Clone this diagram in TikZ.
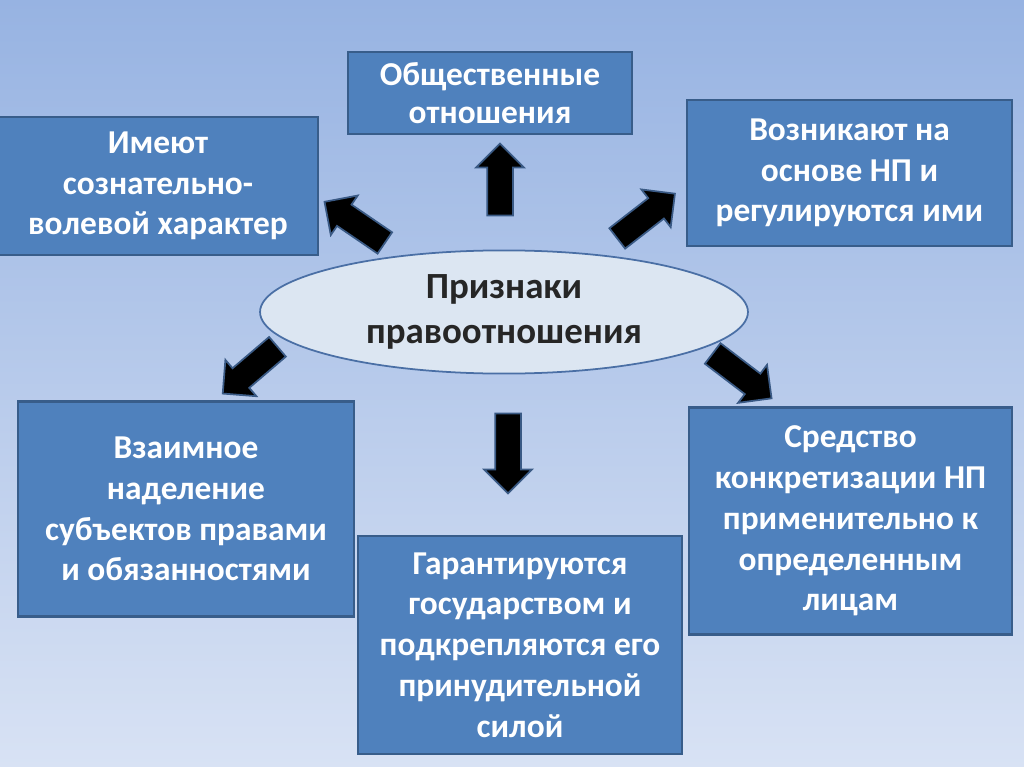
\documentclass[tikz,border=0pt]{standalone}
\usepackage{fontspec}
\setmainfont{Carlito}
\usetikzlibrary{shapes.geometric,shapes.arrows}
\definecolor{bgtop}{HTML}{97B3E2}
\definecolor{bgbot}{HTML}{D8E2F4}
\definecolor{boxfill}{HTML}{4F81BD}
\definecolor{boxline}{HTML}{385D8A}
\definecolor{ellfill}{HTML}{DCE6F2}
\definecolor{ellline}{HTML}{4A6FA5}
\definecolor{arrline}{HTML}{3A5A85}
\definecolor{ink}{HTML}{262626}
\begin{document}
\begin{tikzpicture}[x=0.02cm, y=-0.02cm,
  box/.style={draw=boxline, line width=1.2pt, fill=boxfill, text=white, align=center, inner sep=0pt, font=\fontsize{19}{23.2}\selectfont\bfseries},
  blkarr/.style={single arrow, draw=arrline, line width=1pt, fill=black, inner xsep=0pt, inner ysep=0.24cm, single arrow head extend=0.22cm}]
  % background
  \shade[top color=bgtop, bottom color=bgbot] (0,0) rectangle (1024,767);
  \useasboundingbox (0,0) rectangle (1024,767);
  % centre
  \node[ellipse, draw=ellline, line width=1pt, fill=ellfill, minimum width=9.76cm, minimum height=2.2cm, align=center, text=ink, font=\fontsize{21}{26}\selectfont\bfseries] (sign) at (504,312) {Признаки\\правоотношения};
  % boxes round it
  \node[box, minimum width=5.68cm, minimum height=1.64cm, font=\fontsize{19}{21.5}\selectfont\bfseries] (rel) at (490,93) {Общественные\\отношения};
  \node[box, minimum width=6.4cm, minimum height=2.76cm] (will) at (158,186) {Имеют\\сознательно-\\волевой характер};
  \node[box, minimum width=6.5cm, minimum height=2.92cm] (norm) at (849.5,173) {Возникают на\\основе НП и\\регулируются ими};
  \node[box, minimum width=6.72cm, minimum height=4.3cm] (mutual) at (186,509) {Взаимное\\наделение\\субъектов правами\\и обязанностями};
  \node[box, minimum width=6.48cm, minimum height=4.36cm] (state) at (520,645) {Гарантируются\\государством и\\подкрепляются его\\принудительной\\силой};
  \node[box, minimum width=6.46cm, minimum height=4.54cm] (means) at (850.5,521) {Средство\\конкретизации НП\\применительно к\\определенным\\лицам};
  % block arrows
  \node[blkarr, minimum height=1.44cm, rotate=90] (arUp) at (500,186) {};
  \node[blkarr, minimum height=1.46cm, rotate=145.7] (arUL) at (360,226) {};
  \node[blkarr, minimum height=1.46cm, rotate=37.8] (arUR) at (641,220) {};
  \node[blkarr, minimum height=1.44cm, rotate=220.5] (arDL) at (255,366) {};
  \node[blkarr, minimum height=1.6cm, rotate=270] (arDn) at (508,447) {};
  \node[blkarr, minimum height=1.48cm, rotate=-37.3] (arDR) at (737,372) {};
\end{tikzpicture}
\end{document}
